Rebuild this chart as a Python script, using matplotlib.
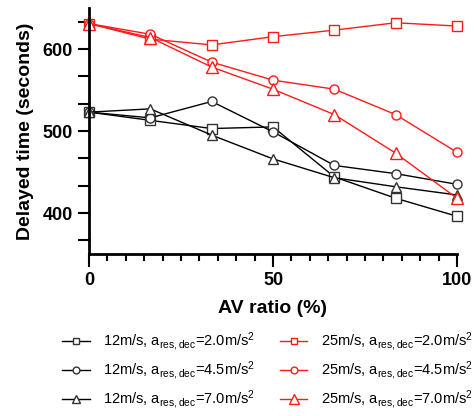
import matplotlib
matplotlib.use('Agg')
import matplotlib.pyplot as plt
from matplotlib.ticker import MultipleLocator

plt.rcParams['font.family'] = ['Liberation Sans', 'DejaVu Sans']
plt.rcParams['mathtext.default'] = 'regular'

# AV ratio (%)
av_ratio = [0, 16.67, 33.33, 50, 66.67, 83.33, 100]

# 12 m/s series
v12_dec20 = [523, 513, 503, 505, 444, 418, 396]
v12_dec45 = [523, 516, 536, 499, 458, 448, 435]
v12_dec70 = [523, 527, 495, 466, 443, 432, 422]

# 25 m/s series
v25_dec20 = [631, 612, 605, 615, 623, 632, 628]
v25_dec45 = [631, 618, 584, 562, 551, 520, 474]
v25_dec70 = [631, 614, 578, 551, 520, 473, 418]

labels_12 = [r'12m/s, a$_{res,dec}$=2.0m/s$^{2}$',
             r'12m/s, a$_{res,dec}$=4.5m/s$^{2}$',
             r'12m/s, a$_{res,dec}$=7.0m/s$^{2}$']
labels_25 = [r'25m/s, a$_{res,dec}$=2.0m/s$^{2}$',
             r'25m/s, a$_{res,dec}$=4.5m/s$^{2}$',
             r'25m/s, a$_{res,dec}$=7.0m/s$^{2}$']

fig = plt.figure(figsize=(4.74, 4.16), dpi=100)
ax = fig.add_axes([89 / 474, 1 - 254 / 416, (457 - 89) / 474, (254 - 8) / 416])

markers = ['s', 'o', '^']
handles = []
for ys, m, ms, lab in zip([v12_dec20, v12_dec45, v12_dec70], markers, [6.5, 6.5, 7], labels_12):
    h, = ax.plot(av_ratio, ys, color='black', lw=1, marker=m, ms=ms,
                 mfc='white', mec='#333333', mew=1, label=lab, clip_on=False)
    handles.append(h)
for ys, m, ms, lab in zip([v25_dec20, v25_dec45, v25_dec70], markers, [6.5, 6.5, 9], labels_25):
    h, = ax.plot(av_ratio, ys, color='#ff1a1a', lw=1, marker=m, ms=ms,
                 mfc='white', mec='#ff1a1a', mew=1, label=lab, clip_on=False)
    handles.append(h)

ax.set_xlim(0, 100)
ax.set_ylim(350, 650)
ax.xaxis.set_major_locator(MultipleLocator(50))
ax.xaxis.set_minor_locator(MultipleLocator(5))
ax.yaxis.set_major_locator(MultipleLocator(100))
ax.yaxis.set_minor_locator(MultipleLocator(100 / 3))

for s in ['top', 'right']:
    ax.spines[s].set_visible(False)
for s in ['left', 'bottom']:
    ax.spines[s].set_linewidth(2)

ax.tick_params(axis='both', which='both', direction='out', width=1.5, labelsize=13)
ax.tick_params(axis='y', which='both', length=8)
ax.tick_params(axis='x', which='major', length=9, pad=4)
ax.tick_params(axis='x', which='minor', length=5)
for t in ax.get_xticklabels() + ax.get_yticklabels():
    t.set_fontweight('bold')

ax.set_xlabel('AV ratio (%)', fontsize=14, fontweight='bold', labelpad=8)
ax.set_ylabel('Delayed time (seconds)', fontsize=14, fontweight='bold', labelpad=6)

fig.legend(handles=handles, loc='upper left', bbox_to_anchor=(52 / 474, 1 - 320 / 416),
           ncol=2, frameon=False, fontsize=10.5, handlelength=1.9, markerscale=0.75,
           columnspacing=1.7, labelspacing=0.45, handletextpad=0.9, borderpad=0.2)

fig.savefig('out.png', dpi=100)
